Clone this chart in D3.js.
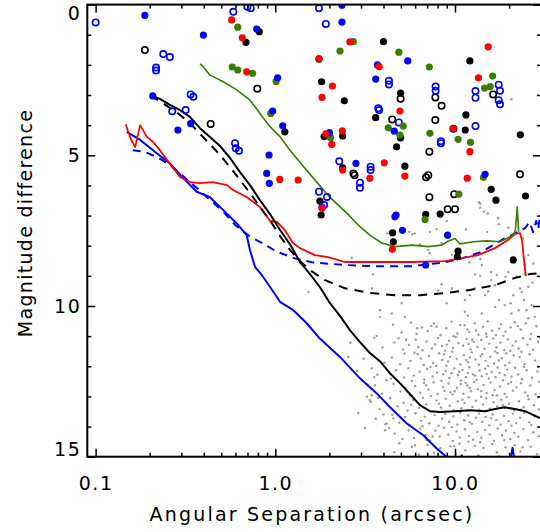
<!DOCTYPE html>
<html>
<head>
<meta charset="utf-8">
<script src="https://cdn.jsdelivr.net/npm/d3@7"></script>
<style>
  body { margin: 0; background: #fff; }
  svg { display: block; }
  text { font-family: "DejaVu Sans", sans-serif; font-size: 19px; fill: #000; }
</style>
</head>
<body>
<div class="svg_container"></div>
<script>
// tick values and labels
var xMajor = [0.1, 1, 10];
var xMajorLabels = ["0.1", "1.0", "10.0"];
var xMinor = [0.2, 0.3, 0.4, 0.5, 0.6, 0.7, 0.8, 0.9, 2, 3, 4, 5, 6, 7, 8, 9, 20, 30];
var yMajor = [0, 5, 10, 15];
var yMinor = [1, 2, 3, 4, 6, 7, 8, 9, 11, 12, 13, 14];

// companions: [separation (arcsec), magnitude difference]
var blueFilled = [[0.188,0.36],[0.208,3.03],[0.287,4.16],[0.338,3.95],[0.398,1.01],[0.788,0.81],[1.03,2.43],
  [0.967,3.53],[1.10,4.02],[0.923,4.99],[0.896,5.60],[0.926,5.93],[2.35,0.02],[2.35,0.58],[5.46,1.87],
  [3.70,2.00],[3.62,2.47],[4.59,4.20],[2.00,4.25],[2.81,5.27],[14.7,5.63],[1.82,6.72],[4.63,7.04],
  [4.70,6.98],[5.10,7.49],[9.10,7.65],[6.87,8.64]];
var blueOpen = [[0.10,0.59],[0.238,1.64],[0.259,1.74],[0.217,2.09],[0.217,2.19],[0.338,2.98],[0.350,3.06],
  [0.267,3.54],[0.317,3.50],[0.584,0.24],[0.699,0.07],[0.730,0.12],[0.597,4.60],[0.602,4.77],[0.628,4.85],
  [1.75,0.12],[1.91,0.64],[2.27,5.20],[4.29,2.53],[4.29,2.65],[7.80,2.72],[7.80,2.86],[13.0,2.87],
  [13.0,3.09],[17.5,2.66],[17.8,2.86],[17.5,3.17],[17.8,3.31],[3.74,3.44],[3.78,3.50],[4.87,3.91],
  [13.0,4.03],[8.35,4.53],[8.35,4.60],[3.39,5.38],[3.39,5.49],[2.96,5.91],[2.96,6.08],[1.75,6.21],
  [1.94,6.38],[1.87,6.65]];
var blackFilled = [[0.815,0.90],[0.687,1.25],[1.13,4.22],[4.00,1.23],[12.1,1.87],[1.75,1.81],[1.81,2.56],
  [2.42,3.19],[1.87,4.38],[2.37,4.36],[4.98,2.94],[3.62,3.75],[4.98,4.42],[4.73,4.72],[11.5,3.66],
  [11.4,4.16],[23.1,4.32],[5.26,5.36],[2.37,5.42],[1.77,6.52],[1.80,6.98],[15.9,6.13],[16.9,6.49],
  [24.7,6.35],[6.87,6.96],[8.27,6.95],[4.50,7.57],[4.54,7.87],[10.4,8.18],[10.3,8.37],[21.1,8.47]];
var blackOpen = [[0.188,1.51],[0.437,3.96],[0.794,2.79],[4.98,3.12],[7.77,3.08],[8.42,3.36],[16.3,2.98],
  [4.47,3.81],[7.77,3.83],[9.80,4.12],[7.20,4.88],[2.72,5.60],[2.76,5.66],[7.10,5.66],[6.90,5.73],
  [23.0,5.63],[7.20,6.39],[9.90,6.29],[9.10,6.79],[10.0,6.79]];
var redFilled = [[0.572,0.51],[0.655,1.10],[0.693,2.23],[1.06,5.80],[1.34,5.82],[2.60,1.24],[1.75,1.79],
  [2.08,2.70],[1.82,3.08],[1.91,4.29],[2.06,4.64],[2.36,4.19],[2.37,5.49],[3.78,2.06],[15.3,1.40],
  [13.5,2.43],[4.94,3.53],[9.80,4.11],[12.1,4.88],[4.04,5.25],[5.26,5.69],[3.36,5.76],[11.7,5.76],
  [1.82,6.76],[4.48,8.12]];
var greenFilled = [[0.618,0.75],[0.576,2.07],[0.618,2.17],[0.748,2.28],[1.01,2.55],[0.943,3.61],[2.72,1.23],
  [2.29,1.54],[2.03,4.42],[4.87,1.58],[7.20,2.07],[14.6,2.77],[15.7,2.72],[16.2,2.37],[4.25,4.09],
  [5.15,4.03],[4.94,4.33],[7.25,4.27],[10.4,4.47],[12.2,4.57],[14.4,5.73],[10.5,6.29],[6.81,7.13]];

// background field stars
var grayUpper = [[13.8,6.74],[13.6,6.56],[15.2,6.93],[17.4,7.09],[11.5,7.46],[9.0,7.18],[7.9,7.45],[7.25,7.54],
  [5.8,7.62],[5.57,7.54],[4.2,7.59],[4.34,7.54],[5.98,7.59],[6.38,7.96],[7.1,8.14],[7.25,8.25],[8.42,7.92],
  [9.6,8.31],[12.0,8.55],[13.85,8.44],[14.1,8.64],[12.9,8.95],[13.8,9.0],[15.9,8.87],[15.9,9.14],[16.7,9.31],
  [17.1,8.97],[19.8,8.87],[19.1,9.03],[22.0,9.03],[24.5,8.95],[27.0,9.22],[3.5,8.95],[2.66,8.40],[1.53,9.53],
  [8.42,9.28],[8.06,9.48],[9.6,9.42],[9.0,9.91],[11.35,9.80],[12.1,9.64],[12.9,9.42],[14.7,9.64],[15.3,9.51],
  [17.6,9.80],[16.7,10.03],[18.9,9.97],[20.4,9.91],[21.1,9.64],[23.5,9.53],[24.2,9.80],[25.0,10.14],
  [26.7,9.97],[5.05,9.91],[3.82,10.14],[4.45,10.25],[5.26,10.36],[11.35,10.19],[11.8,10.32],[14.1,10.25],
  [20.6,10.25],[22.6,10.14],[25.6,10.41],[27.8,10.36],[3.44,9.42],[17.6,7.29],[19.8,7.40],[15.1,7.54],
  [23.9,7.76],[25.6,8.31],[24.5,8.64],[13.8,6.6],[14.5,6.87],[23.0,9.42],[25.6,9.36],[27.3,8.59],[20.6,3.14]];
var grayDense = [
  [4.52,10.62],[5.05,10.88],[5.70,10.55],[6.12,10.93],[6.55,10.71],[7.05,10.83],[7.62,10.58],[8.30,10.97],
  [7.38,10.66],[8.95,10.74],[9.55,10.52],[10.3,10.91],[9.82,11.0],[11.3,10.64],[12.0,10.86],[12.9,10.57],
  [13.5,10.95],[11.7,10.78],[14.3,10.69],[15.2,10.51],[16.1,10.82],[16.9,10.97],[14.9,10.92],[18.0,10.60],
  [19.1,10.85],[20.4,10.71],[21.5,10.54],[18.6,10.99],[23.2,10.78],[24.8,10.58],[26.5,10.93],[28.4,10.67],
  [3.55,11.05],[3.95,11.38],[4.60,11.21],[5.15,11.44],[4.85,11.07],[5.55,11.29],[6.05,11.12],[6.60,11.47],
  [6.25,11.36],[6.95,11.18],[7.45,11.41],[8.05,11.06],[8.45,11.33],[7.75,11.27],[8.80,11.48],[9.25,11.15],
  [9.75,11.39],[10.45,11.23],[10.1,11.03],[11.1,11.31],[11.6,11.09],[12.2,11.44],[12.7,11.19],[13.3,11.36],
  [11.9,11.26],[14.0,11.13],[14.6,11.42],[15.5,11.25],[16.3,11.08],[17.0,11.37],[15.0,11.02],[17.9,11.21],
  [18.8,11.46],[19.7,11.11],[20.9,11.32],[21.8,11.17],[22.6,11.41],[23.9,11.07],[25.3,11.28],[27.2,11.45],
  [29.0,11.19],
  [3.48,11.62],[4.05,11.88],[4.45,11.71],[4.95,11.93],[5.25,11.58],[5.65,11.82],[5.95,11.55],[6.45,11.74],
  [6.70,11.96],[7.15,11.66],[7.55,11.89],[8.15,11.57],[8.50,11.79],[7.85,11.98],[8.70,11.61],[9.15,11.84],
  [9.65,11.52],[10.2,11.76],[10.7,11.94],[9.40,11.69],[11.2,11.63],[11.8,11.87],[12.4,11.54],[13.0,11.78],
  [13.6,11.95],[12.1,11.71],[14.2,11.59],[14.8,11.82],[15.7,11.68],[16.5,11.91],[17.2,11.56],[15.3,11.99],
  [18.2,11.73],[19.3,11.57],[20.1,11.88],[21.2,11.64],[19.0,11.97],[22.9,11.69],[24.4,11.93],[26.0,11.6],
  [27.9,11.81],
  [3.70,12.28],[4.15,12.46],[4.70,12.13],[5.20,12.37],[4.40,12.41],[5.50,12.06],[5.90,12.31],[6.35,12.18],
  [6.75,12.44],[7.00,12.09],[7.50,12.34],[7.95,12.21],[8.40,12.48],[7.30,12.02],[8.85,12.16],[9.30,12.39],
  [9.90,12.07],[10.4,12.29],[10.8,12.47],[9.55,12.23],[11.0,12.12],[11.5,12.36],[12.0,12.03],[12.6,12.27],
  [13.2,12.45],[13.7,12.14],[11.8,12.22],[14.1,12.33],[14.7,12.08],[15.4,12.41],[16.0,12.19],[16.8,12.36],
  [17.3,12.04],[15.0,12.26],[17.7,12.22],[18.5,12.46],[19.5,12.11],[20.6,12.34],[21.6,12.05],[22.4,12.27],
  [23.6,12.43],[25.0,12.13],[26.8,12.38],[28.8,12.17],
  [3.58,12.63],[3.92,12.91],[4.55,12.58],[4.98,12.84],[5.30,12.71],[5.60,12.96],[6.00,12.66],[6.40,12.88],
  [6.72,12.55],[7.10,12.77],[7.60,12.53],[8.00,12.92],[8.55,12.69],[7.35,12.99],[8.75,12.81],[9.20,12.57],
  [9.70,12.94],[10.25,12.72],[10.75,12.59],[9.45,12.86],[11.15,12.91],[11.7,12.64],[12.3,12.83],[12.8,12.52],
  [13.4,12.76],[11.45,12.55],[14.4,12.62],[15.0,12.89],[15.8,12.54],[16.6,12.79],[17.1,12.96],[14.0,12.82],
  [17.8,12.67],[18.9,12.92],[19.8,12.58],[21.0,12.81],[22.0,12.69],[23.3,12.56],[24.6,12.87],[26.3,12.64],
  [28.1,12.93],
  [3.40,13.18],[3.80,13.42],[4.35,13.06],[4.78,13.33],[5.18,13.21],[5.45,13.47],[5.85,13.12],[6.30,13.38],
  [6.62,13.04],[6.90,13.26],[7.40,13.49],[7.90,13.13],[8.35,13.37],[8.90,13.08],[9.35,13.31],[9.85,13.46],
  [10.35,13.17],[10.85,13.39],[11.3,13.22],[11.9,13.03],[12.5,13.35],[13.1,13.14],[13.7,13.44],[14.3,13.27],
  [14.9,13.06],[15.6,13.41],[16.4,13.19],[17.2,13.33],[18.1,13.11],[19.0,13.38],[20.0,13.24],[21.3,13.47],
  [19.4,13.02],[22.7,13.16],[24.1,13.36],[25.7,13.09],[27.5,13.29],[29.3,13.43],
  [3.62,13.74],[4.10,13.92],[4.48,13.61],[4.90,13.87],[5.28,13.69],[5.58,13.95],[6.02,13.56],[6.48,13.81],
  [6.78,13.67],[7.20,13.89],[7.70,13.62],[8.10,13.97],[8.48,13.73],[8.82,13.58],[9.28,13.85],[9.80,13.66],
  [10.3,13.93],[10.7,13.54],[11.25,13.79],[11.85,13.63],[12.45,13.91],[13.05,13.71],[13.6,13.57],[14.2,13.84],
  [14.8,13.68],[15.5,13.96],[16.2,13.59],[17.0,13.78],[17.9,13.93],[18.7,13.64],[19.9,13.82],[21.0,13.57],
  [21.9,13.88],[23.0,13.71],[24.3,13.55],[25.9,13.86],[27.8,13.66],
  [4.62,14.23],[5.10,14.41],[5.52,14.12],[5.92,14.38],[6.42,14.07],[6.85,14.29],[7.25,14.46],[7.78,14.14],
  [8.22,14.33],[8.68,14.04],[9.18,14.27],[9.72,14.48],[10.2,14.16],[10.65,14.36],[11.35,14.09],[11.95,14.31],
  [12.6,14.44],[13.3,14.18],[14.0,14.37],[14.7,14.11],[15.6,14.26],[16.5,14.47],[17.3,14.06],[18.3,14.29],
  [19.2,14.13],[20.3,14.42],[21.4,14.21],[22.5,14.34],[24.0,14.08],[25.5,14.45],[27.3,14.19],[29.2,14.32],
  [5.75,14.68],[6.30,14.93],[7.05,14.61],[7.65,14.87],[8.30,14.72],[8.85,15.02],[9.45,14.66],[10.1,14.91],
  [10.6,14.57],[11.4,14.79],[12.2,15.08],[12.9,14.64],[13.5,14.96],[14.4,14.71],[15.3,15.04],[16.1,14.58],
  [17.1,14.85],[18.0,15.11],[19.1,14.69],[20.2,14.94],[21.5,14.62],[23.1,14.83],[24.7,15.07],[26.4,14.67],
  [28.6,14.92]];
var grayExtra = [[6.15,10.74],[7.9,10.69],[10.7,10.63],[13.1,10.81],[17.6,10.75],[22.3,10.66],
  [5.35,11.12],[9.0,11.28],[12.45,11.12],[16.7,11.51],[20.3,11.49],[26.2,11.09],
  [6.2,11.59],[8.95,11.98],[11.55,11.79],[13.9,11.66],[17.5,11.81],[23.4,11.52],
  [5.75,12.49],[8.6,12.27],[10.55,12.18],[12.95,12.31],[18.9,12.29],[24.2,12.02],[29.5,12.51],
  [6.9,12.63],[9.95,12.83],[12.05,12.71],[16.2,12.96],[20.5,12.52],[25.4,12.98],
  [5.7,13.28],[8.15,13.24],[11.0,13.11],[14.0,13.01],[18.5,13.29],[23.3,13.44],
  [6.6,13.99],[9.6,14.02],[12.1,13.86],[15.9,13.72],[20.6,13.97],[26.6,13.95],
  [7.5,14.33],[9.9,14.65],[13.8,14.52],[18.8,14.45],[23.8,14.69],
  [4.6,14.85],[5.3,15.1],[11.9,14.5],[17.6,14.98]];
var grayLeft = [[3.82,10.36],[3.67,10.99],[2.55,11.69],[3.44,12.07],[3.91,11.9],[3.23,13.01],[3.36,13.12],
  [4.17,13.9],[4.54,13.73],[5.98,14.62],[6.95,14.45],[3.44,12.96],[4.08,14.12],[2.62,11.22],[3.05,12.48],
  [2.90,13.55],[3.15,14.05],[3.1,11.75],[2.85,12.15],[3.25,12.6],[3.75,13.05],[4.0,13.6],[4.3,14.05],
  [4.9,14.55],[3.55,12.35]];

// detection limit curves: [separation, magnitude difference]
var blackSolid = [[0.201,3.00],[0.228,3.13],[0.259,3.33],[0.295,3.50],[0.335,3.73],[0.381,4.10],[0.433,4.39],
  [0.492,4.69],[0.56,5.09],[0.636,5.56],[0.723,5.99],[0.822,6.49],[0.934,6.95],[1.062,7.48],[1.207,7.95],
  [1.372,8.54],[1.56,8.94],[1.77,9.37],[2.01,9.90],[2.29,10.33],[2.60,10.80],[2.96,11.20],[3.36,11.56],
  [3.82,11.83],[4.34,12.23],[4.94,12.56],[5.61,12.92],[6.38,13.29],[7.25,13.49],[8.24,13.52],[10.0,13.49],
  [12.1,13.46],[14.7,13.49],[16.7,13.42],[18.9,13.36],[21.5,13.42],[24.5,13.49],[29.7,13.72]];
var blackDashed = [[0.201,3.03],[0.228,3.20],[0.259,3.43],[0.295,3.66],[0.335,3.93],[0.381,4.29],[0.433,4.63],
  [0.492,4.99],[0.56,5.39],[0.636,5.82],[0.723,6.25],[0.822,6.72],[0.934,7.15],[1.062,7.68],[1.207,8.14],
  [1.372,8.51],[1.56,8.81],[1.89,9.14],[2.44,9.41],[3.36,9.57],[4.63,9.64],[6.38,9.64],[8.78,9.57],
  [12.1,9.47],[16.7,9.31],[21.5,9.07],[26.1,8.94],[29.7,8.91]];
var redSolid = [[0.147,3.97],[0.157,4.46],[0.166,4.73],[0.177,4.00],[0.193,4.39],[0.209,4.56],[0.228,4.83],
  [0.250,5.16],[0.270,5.42],[0.295,5.72],[0.335,5.89],[0.381,5.92],[0.450,5.89],[0.538,5.99],[0.582,6.15],
  [0.696,6.39],[0.822,6.72],[0.934,7.18],[1.022,7.21],[1.13,7.48],[1.254,7.91],[1.372,8.08],[1.66,8.31],
  [1.965,8.38],[2.44,8.54],[3.73,8.54],[5.77,8.54],[8.80,8.51],[10.94,8.41],[13.43,8.31],[16.7,8.08],
  [19.7,7.81],[21.6,7.61],[23.0,7.58],[23.6,7.81],[24.2,8.48],[24.8,9.01]];
var blueDashed = [[0.161,4.83],[0.188,4.89],[0.220,5.06],[0.259,5.32],[0.306,5.69],[0.367,6.09],[0.424,6.43],
  [0.514,6.87],[0.597,7.31],[0.723,7.70],[0.857,7.93],[1.018,8.20],[1.287,8.42],[1.595,8.55],[2.44,8.64],
  [3.74,8.68],[5.75,8.68],[8.78,8.55],[10.9,8.42],[14.1,8.20],[18.2,7.81],[21.6,7.59],[24.5,7.42],
  [26.0,7.22],[27.2,7.55],[28.3,7.18],[29.1,7.45],[29.7,7.0]];
var blueSolid = [[0.149,4.22],[0.177,4.49],[0.219,4.93],[0.259,5.27],[0.308,5.76],[0.365,6.21],[0.433,6.39],
  [0.514,6.82],[0.61,7.26],[0.693,7.65],[0.723,8.15],[0.771,8.70],[0.840,8.97],[0.934,9.36],[1.062,9.86],
  [1.26,10.14],[1.50,10.58],[1.77,11.08],[2.29,11.69],[2.96,12.40],[3.67,12.90],[4.34,13.35],[5.39,13.90],
  [6.66,14.29],[7.91,14.73],[8.99,15.01],[10.0,15.3],[10.53,15.4],[10.9,14.95],[11.22,15.4],[19.7,15.6],
  [20.9,14.7],[22.1,15.6]];
var greenSolid = [[0.381,1.97],[0.397,2.06],[0.433,2.34],[0.514,2.56],[0.61,2.83],[0.723,3.17],[0.822,3.61],
  [0.934,4.05],[1.062,4.38],[1.207,4.83],[1.43,5.36],[1.70,5.89],[2.01,6.39],[2.50,6.92],[2.96,7.37],
  [3.36,7.65],[3.91,7.91],[4.63,8.03],[5.75,7.98],[7.10,8.03],[8.43,7.98],[9.14,7.85],[10.0,7.76],
  [10.65,7.94],[12.65,7.87],[15.0,7.84],[17.8,7.87],[19.4,7.76],[21.1,7.65],[21.7,7.48],[22.2,6.71],[22.6,7.54]];

var width = 540, height = 532;
var plot = { left: 87.3, right: 541, top: 4.6, bottom: 456.7 };

// log x, inverted magnitude y
var x = d3.scaleLog().domain([0.0899, 30.1]).range([plot.left, plot.right]);
var y = d3.scaleLinear().domain([0, 15]).range([plot.top, plot.bottom]);

var svg = d3.select(".svg_container").append("svg")
  .attr("width", width)
  .attr("height", height);

svg.append("rect").attr("width", width).attr("height", height).attr("fill", "#fff");

svg.append("clipPath").attr("id", "clip")
  .append("rect")
  .attr("x", plot.left).attr("y", plot.top)
  .attr("width", plot.right - plot.left).attr("height", plot.bottom - plot.top);

var inner = svg.append("g").attr("clip-path", "url(#clip)");

// gray field stars
var grayAll = grayUpper.concat(grayDense, grayExtra, grayLeft);
inner.append("g").selectAll("circle")
  .data(grayAll)
  .enter().append("circle")
  .attr("cx", function(d) { return x(d[0]); })
  .attr("cy", function(d) { return y(d[1]); })
  .attr("r", 1.2)
  .attr("fill", "#9a9a9a");

// curves
var line = d3.line()
  .x(function(d) { return x(d[0]); })
  .y(function(d) { return y(d[1]); });

var curves = [
  { data: blueSolid, color: "#0000ff", width: 2, dash: null },
  { data: blueDashed, color: "#0000ff", width: 2, dash: "8,6" },
  { data: redSolid, color: "#ff0000", width: 1.8, dash: null },
  { data: blackDashed, color: "#000", width: 2, dash: "9,7" },
  { data: blackSolid, color: "#000", width: 2, dash: null },
  { data: greenSolid, color: "#3a7d00", width: 1.6, dash: null }
];

curves.forEach(function(c) {
  inner.append("path")
    .datum(c.data)
    .attr("d", line)
    .attr("fill", "none")
    .attr("stroke", c.color)
    .attr("stroke-width", c.width)
    .attr("stroke-dasharray", c.dash)
    .attr("stroke-linejoin", "round");
});

// companion symbols
function drawDots(data, color, open) {
  inner.append("g").selectAll("circle")
    .data(data)
    .enter().append("circle")
    .attr("cx", function(d) { return x(d[0]); })
    .attr("cy", function(d) { return y(d[1]); })
    .attr("r", open ? 3.2 : 3.6)
    .attr("fill", open ? "none" : color)
    .attr("stroke", open ? color : "none")
    .attr("stroke-width", open ? 1.6 : 0);
}

drawDots(blackOpen, "#000", true);
drawDots(blueOpen, "#0000ff", true);
drawDots(blackFilled, "#000", false);
drawDots(greenFilled, "#3a7d00", false);
drawDots(blueFilled, "#0000ff", false);
drawDots(redFilled, "#ff0000", false);

// axes, ticks pointing inward on all four sides
function strip(g) {
  g.select(".domain").remove();
  g.selectAll(".tick line").attr("stroke", "#000").attr("stroke-width", 1.5);
}

svg.append("g")
  .attr("transform", "translate(0," + plot.bottom + ")")
  .call(d3.axisBottom(x).tickValues(xMajor).tickSize(-8).tickSizeOuter(0).tickPadding(20)
    .tickFormat(function(d, i) { return xMajorLabels[i]; }))
  .call(strip)
  .selectAll("text").style("letter-spacing", "1.5px");

svg.append("g")
  .attr("transform", "translate(0," + plot.bottom + ")")
  .call(d3.axisBottom(x).tickValues(xMinor).tickSize(-4).tickSizeOuter(0).tickFormat(""))
  .call(strip);

svg.append("g")
  .attr("transform", "translate(0," + plot.top + ")")
  .call(d3.axisTop(x).tickValues(xMajor).tickSize(-8).tickSizeOuter(0).tickFormat(""))
  .call(strip);

svg.append("g")
  .attr("transform", "translate(0," + plot.top + ")")
  .call(d3.axisTop(x).tickValues(xMinor).tickSize(-4).tickSizeOuter(0).tickFormat(""))
  .call(strip);

svg.append("g")
  .attr("transform", "translate(" + plot.left + ",0)")
  .call(d3.axisLeft(y).tickValues(yMajor).tickSize(-8).tickSizeOuter(0).tickPadding(6)
    .tickFormat(d3.format("d")))
  .call(strip)
  .selectAll("text")
  .style("letter-spacing", "1.5px")
  .attr("y", function(d) { return d === 0 ? 8.5 : (d === 15 ? -7.5 : 0); });

svg.append("g")
  .attr("transform", "translate(" + plot.left + ",0)")
  .call(d3.axisLeft(y).tickValues(yMinor).tickSize(-4).tickSizeOuter(0).tickFormat(""))
  .call(strip);

svg.append("g")
  .attr("transform", "translate(" + plot.right + ",0)")
  .call(d3.axisRight(y).tickValues(yMajor).tickSize(-8).tickSizeOuter(0).tickFormat(""))
  .call(strip);

svg.append("g")
  .attr("transform", "translate(" + plot.right + ",0)")
  .call(d3.axisRight(y).tickValues(yMinor).tickSize(-4).tickSizeOuter(0).tickFormat(""))
  .call(strip);

// frame
svg.append("rect")
  .attr("x", plot.left).attr("y", plot.top)
  .attr("width", plot.right - plot.left).attr("height", plot.bottom - plot.top)
  .attr("fill", "none")
  .attr("stroke", "#000")
  .attr("stroke-width", 2);

// axis titles
svg.append("text")
  .attr("x", 312)
  .attr("y", 521)
  .attr("text-anchor", "middle")
  .style("letter-spacing", "2.2px")
  .text("Angular Separation (arcsec)");

svg.append("text")
  .attr("transform", "translate(32,223) rotate(-90)")
  .attr("text-anchor", "middle")
  .style("letter-spacing", "1.3px")
  .text("Magnitude difference");
</script>
</body>
</html>
